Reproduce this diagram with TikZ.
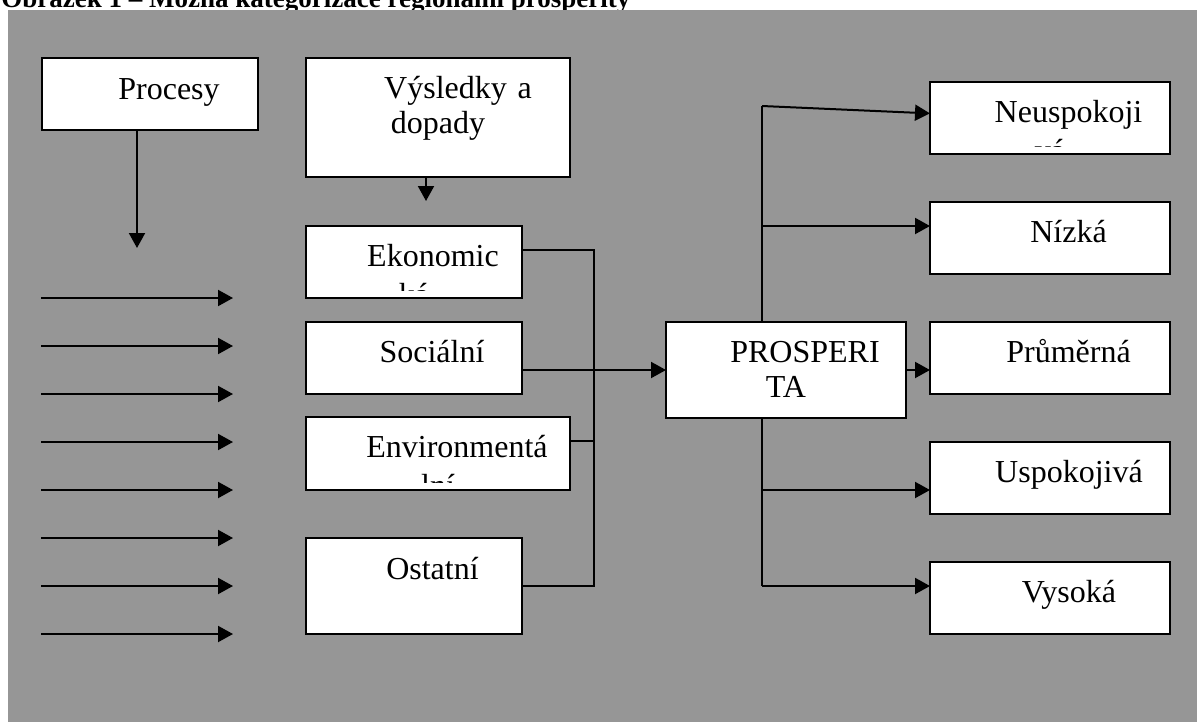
\documentclass[tikz,border=0pt]{standalone}
\usepackage{fontspec}
\setmainfont{Liberation Serif}
\usetikzlibrary{arrows.meta}
\definecolor{bggray}{RGB}{150,150,150}

\begin{document}
\begin{tikzpicture}[x=0.5pt,y=-0.5pt,
  box/.style={draw=black,fill=white,line width=1pt,inner sep=0pt,outer sep=0pt,anchor=north west},
  txt/.style={font=\fontsize{16}{17.5}\selectfont,align=center,inner sep=0pt,anchor=base},
  arr/.style={line width=1pt,-{Triangle[length=7.5pt,width=8pt]}},
  line/.style={line width=1pt}]

\useasboundingbox (0,0) rectangle (1197,722);

\node[anchor=base west,inner sep=0pt,font=\bfseries\fontsize{13.5}{16}\selectfont] (title) at (1,8)
  {Obrázek 1 – Možná kategorizace regionální prosperity};
\fill[bggray] (8,10) rectangle (1197,722);

% left column
\node[box,minimum width=108pt,minimum height=36pt] (proc) at (42,58) {};
\node[box,minimum width=132pt,minimum height=59.5pt] (vys) at (306,58) {};
\node[box,minimum width=108pt,minimum height=36pt] (eko) at (306,226) {};
\node[box,minimum width=108pt,minimum height=36pt] (soc) at (306,322) {};
\node[box,minimum width=132pt,minimum height=36.5pt] (env) at (306,417) {};
\node[box,minimum width=108pt,minimum height=48pt] (ost) at (306,538) {};

% middle and right column
\node[box,minimum width=120pt,minimum height=48pt] (pros) at (666,322) {};
\node[box,minimum width=120pt,minimum height=36pt] (neu) at (930,82) {};
\node[box,minimum width=120pt,minimum height=36pt] (niz) at (930,202) {};
\node[box,minimum width=120pt,minimum height=36pt] (prum) at (930,322) {};
\node[box,minimum width=120pt,minimum height=36pt] (usp) at (930,442) {};
\node[box,minimum width=120pt,minimum height=36pt] (vysk) at (930,562) {};

\node[txt,text width=108pt] (proct) at ([yshift=-20.5pt]proc.north) {\hspace*{19pt}Procesy};
\node[txt,text width=132pt] (vyst) at ([yshift=-20pt]vys.north) {\hspace*{20pt}Výsledky a\\dopady};
\begin{scope}
  \clip (eko.north west) rectangle ([yshift=4pt]eko.south east);
  \node[txt,text width=108pt] (ekot) at ([yshift=-20pt]eko.north) {\hspace*{19pt}Ekonomic\\[2pt]ká};
\end{scope}
\node[txt,text width=108pt] (soct) at ([yshift=-20pt]soc.north) {\hspace*{18pt}Sociální};
\begin{scope}
  \clip (env.north west) rectangle ([yshift=4pt]env.south east);
  \node[txt,text width=132pt] (envt) at ([yshift=-20pt]env.north) {\hspace*{19pt}Environmentá\\[2pt]lní};
\end{scope}
\node[txt,text width=108pt] (ostt) at ([yshift=-20.5pt]ost.north) {\hspace*{18.5pt}Ostatní};

\node[txt,text width=120pt] (prost) at ([yshift=-20pt]pros.north) {\hspace*{19pt}PROSPERI\\TA};
\begin{scope}
  \clip (neu.north west) rectangle ([yshift=4pt]neu.south east);
  \node[txt,text width=120pt] (neut) at ([yshift=-20pt]neu.north) {\hspace*{18.5pt}Neuspokoji\\[2pt]vá};
\end{scope}
\node[txt,text width=120pt] (nizt) at ([yshift=-20pt]niz.north) {\hspace*{18.5pt}Nízká};
\node[txt,text width=120pt] (prumt) at ([yshift=-20pt]prum.north) {\hspace*{18.5pt}Průměrná};
\node[txt,text width=120pt] (uspt) at ([yshift=-20pt]usp.north) {\hspace*{19pt}Uspokojivá};
\node[txt,text width=120pt] (vyskt) at ([yshift=-20pt]vysk.north) {\hspace*{19pt}Vysoká};

% arrows down
\coordinate (p1) at (137,248);
\coordinate (v1) at (426,201);
\draw[arr] (proc.south -| p1) -- (p1);
\draw[arr] (vys.south -| v1) -- (v1);

\foreach \y in {298,346,...,634}
  \draw[arr] (41,\y) -- (233,\y);

% collecting line
\coordinate (b1) at (594,250);
\coordinate (b3) at (594,441);
\coordinate (b4) at (594,586);
\draw[line] (b1 -| eko.east) -- (b1) -- (b4) -- (ost.east);
\draw[line] (b3 -| env.east) -- (b3);
\draw[arr] (soc.east |- pros.west) -- (pros.west);

% branches
\coordinate (f1) at (762,106);
\coordinate (f2) at (762,226);
\coordinate (f4) at (762,490);
\coordinate (f5) at (762,586);
\draw[line] (pros.north -| f1) -- (f1);
\draw[arr] (f1) -- ([yshift=2.3pt]neu.west);
\draw[arr] (f2) -- (f2 -| niz.west);
\draw[arr] (pros.east) -- (pros.east -| prum.west);
\draw[line] (pros.south -| f5) -- (f5);
\draw[arr] (f4) -- (f4 -| usp.west);
\draw[arr] (f5) -- (f5 -| vysk.west);

\end{tikzpicture}
\end{document}
